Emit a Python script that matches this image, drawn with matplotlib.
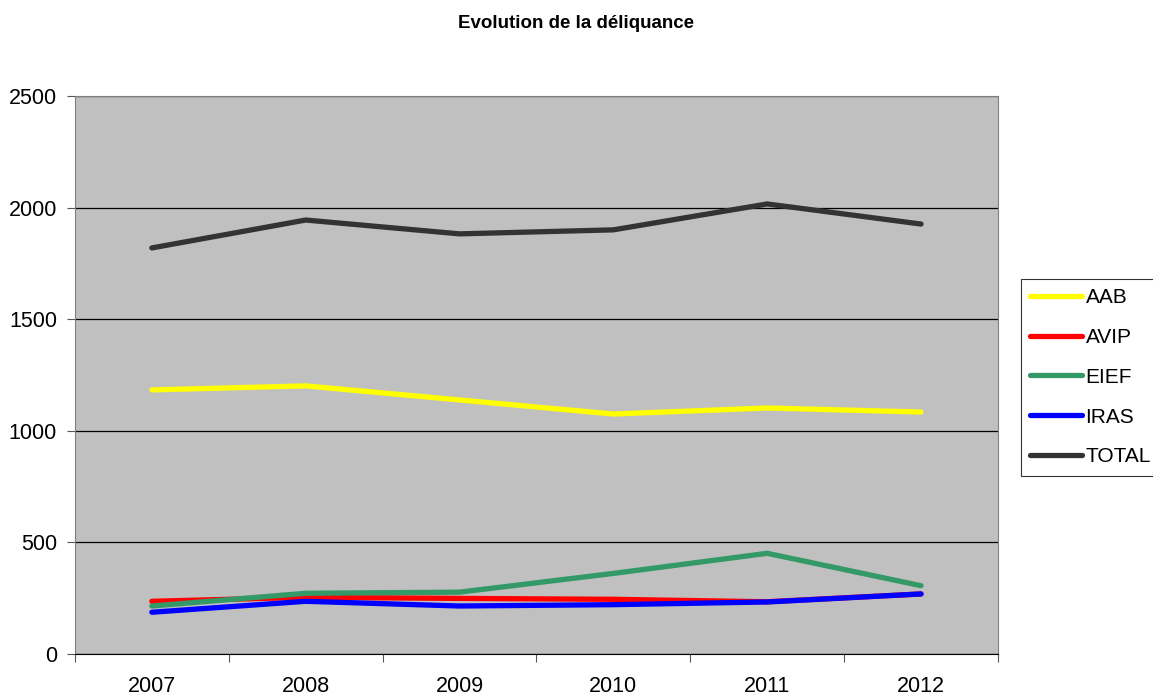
import matplotlib
matplotlib.use('Agg')
import matplotlib.pyplot as plt
import numpy as np

plt.rcParams['font.family'] = ['Liberation Sans', 'DejaVu Sans']

# données
annees = ['2007', '2008', '2009', '2010', '2011', '2012']
aab = [1183, 1201, 1138, 1075, 1102, 1084]
avip = [236, 254, 249, 245, 234, 269]
eief = [215, 272, 277, 361, 451, 306]
iras = [187, 236, 215, 221, 233, 269]
total = [1819, 1944, 1882, 1900, 2016, 1926]

series = [('AAB', aab, '#ffff00'),
          ('AVIP', avip, '#ff0000'),
          ('EIEF', eief, '#339966'),
          ('IRAS', iras, '#0000ff'),
          ('TOTAL', total, '#333333')]

fig = plt.figure(figsize=(11.53, 6.95), dpi=100)
ax = fig.add_axes([0.065, 0.059, 0.8005, 0.803])
ax.set_facecolor('#c0c0c0')

x = np.arange(len(annees))
for nom, vals, couleur in series:
    ax.plot(x, vals, color=couleur, lw=3.8, label=nom, solid_capstyle='round')

ax.set_xlim(-0.5, len(annees) - 0.5)
ax.set_ylim(0, 2500)
ax.set_yticks(np.arange(0, 2501, 500))
ax.yaxis.grid(True, color='black', lw=0.9)
ax.set_axisbelow(True)

# ticks x entre les catégories
ax.set_xticks(np.arange(-0.5, len(annees)), minor=False)
ax.set_xticklabels([])
ax.set_xticks(x, minor=True)
ax.set_xticklabels(annees, minor=True)
ax.tick_params(axis='x', which='minor', length=0, labelsize=15.5, pad=16)
ax.tick_params(axis='x', which='major', length=6, direction='out', color='#555555')
ax.tick_params(axis='y', length=6, direction='out', labelsize=15.5, pad=7, color='#555555')

for s in ax.spines.values():
    s.set_color('#808080')
ax.spines['bottom'].set_color('black')

fig.suptitle('Evolution de la déliquance', fontsize=13.5, fontweight='bold', y=0.978)

leg = fig.legend(loc='upper left', bbox_to_anchor=(0.8855, 0.599), fontsize=15,
                 frameon=True, fancybox=False, edgecolor='black',
                 handlelength=2.5, handletextpad=0.15, labelspacing=1.0,
                 borderpad=0.45, borderaxespad=0)
leg.get_frame().set_linewidth(0.8)

fig.savefig('out.png', dpi=100)
